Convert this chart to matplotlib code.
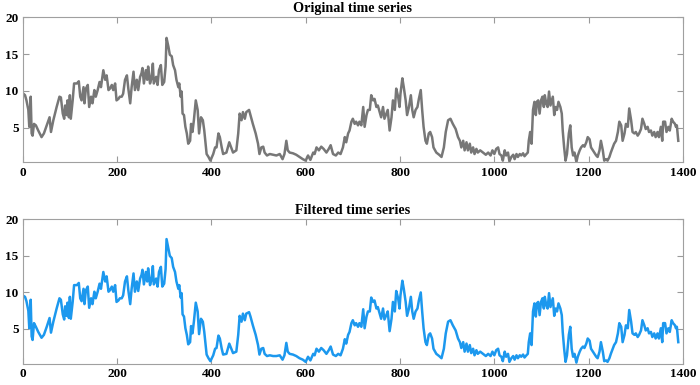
import matplotlib
matplotlib.use("Agg")
import matplotlib.pyplot as plt

plt.rcParams['font.family'] = ['Liberation Serif', 'DejaVu Serif']
plt.rcParams['font.weight'] = 'bold'

# time index of each value
t = [0, 5, 8, 12, 14, 17, 19, 21, 24, 28, 33, 40, 45, 51, 57, 60, 65, 72, 78, 81,
     85, 88, 90, 93, 95, 98, 100, 102, 106, 109, 115, 119, 122, 125, 129, 131, 134, 138, 141, 145,
     148, 152, 155, 159, 163, 166, 171, 175, 178, 182, 185, 189, 192, 196, 199, 203, 206, 210, 213, 217,
     221, 224, 228, 231, 235, 238, 242, 245, 249, 252, 254, 257, 261, 264, 266, 270, 273, 276, 278, 283,
     286, 289, 293, 296, 300, 303, 305, 309, 312, 316, 319, 323, 326, 330, 332, 335, 337, 339, 342, 345,
     348, 351, 355, 357, 360, 363, 367, 371, 374, 378, 382, 385, 390, 394, 398, 404, 408, 411, 415, 418,
     422, 425, 432, 438, 446, 453, 457, 460, 464, 467, 471, 474, 480, 483, 488, 494, 499, 502, 506, 510,
     513, 518, 524, 531, 538, 545, 551, 555, 559, 562, 566, 573, 580, 587, 594, 600, 605, 610, 616, 619,
     623, 628, 633, 638, 644, 649, 653, 658, 664, 669, 674, 679, 683, 686, 690, 693, 697, 700, 704, 707,
     711, 714, 718, 722, 725, 729, 732, 736, 739, 743, 746, 750, 753, 757, 760, 764, 767, 771, 774, 778,
     782, 785, 789, 792, 796, 799, 801, 805, 808, 812, 815, 819, 823, 826, 829, 833, 837, 840, 844, 847,
     850, 854, 857, 861, 864, 868, 871, 877, 883, 888, 893, 897, 902, 907, 912, 918, 923, 927, 930, 934,
     937, 941, 944, 948, 951, 955, 958, 962, 965, 970, 976, 982, 987, 992, 996, 1000, 1004, 1008, 1011, 1015,
     1018, 1022, 1025, 1029, 1032, 1036, 1040, 1043, 1047, 1050, 1054, 1057, 1061, 1064, 1068, 1071, 1073, 1076, 1079, 1082,
     1085, 1088, 1090, 1093, 1096, 1099, 1102, 1105, 1107, 1110, 1113, 1116, 1119, 1122, 1124, 1127, 1130, 1133, 1136, 1140,
     1143, 1145, 1148, 1151, 1154, 1158, 1161, 1164, 1167, 1170, 1174, 1177, 1181, 1184, 1188, 1191, 1195, 1198, 1202, 1205,
     1209, 1212, 1216, 1219, 1223, 1226, 1230, 1233, 1237, 1240, 1244, 1247, 1251, 1254, 1258, 1262, 1265, 1269, 1272, 1276,
     1279, 1283, 1286, 1290, 1293, 1297, 1300, 1304, 1307, 1311, 1314, 1318, 1321, 1325, 1328, 1332, 1335, 1339, 1342, 1346,
     1349, 1353, 1356, 1358, 1362, 1365, 1369, 1372, 1376, 1379, 1383, 1385, 1387, 1390]

original = [9.7, 9.4, 8.7, 7.4, 5.1, 9.2, 4.2, 3.9, 5.5, 5.3, 4.6, 3.7, 4.2, 5.3, 6.4, 4.4, 6.0, 7.8, 9.2, 9.1,
            6.9, 6.2, 8.0, 6.7, 8.7, 6.4, 9.4, 6.2, 8.7, 11.0, 11.0, 11.3, 9.2, 8.7, 10.5, 8.3, 10.3, 10.8, 7.8, 9.2,
            8.3, 10.1, 9.2, 10.1, 11.2, 10.5, 12.8, 11.5, 12.1, 10.1, 10.3, 10.8, 10.1, 11.0, 8.7, 8.9, 9.2, 9.2, 9.6, 11.5,
            12.1, 10.3, 8.3, 10.5, 12.6, 10.1, 11.5, 10.1, 11.9, 12.4, 13.1, 11.0, 12.8, 11.5, 13.3, 11.0, 11.7, 13.7, 11.0, 11.9,
            10.8, 12.8, 13.5, 10.8, 11.2, 13.3, 17.2, 16.0, 14.9, 14.7, 13.5, 12.8, 11.5, 10.5, 11.0, 9.2, 9.9, 6.9, 6.7, 5.1,
            4.2, 2.8, 3.2, 5.5, 4.4, 6.0, 8.7, 7.4, 4.2, 6.4, 6.0, 4.6, 1.4, 1.0, 0.5, 1.4, 2.3, 2.3, 4.2, 3.7,
            2.3, 1.4, 1.6, 3.0, 1.6, 1.9, 4.2, 6.9, 6.0, 7.1, 6.2, 7.1, 7.4, 6.7, 5.5, 4.2, 2.8, 1.4, 2.3, 2.4,
            1.6, 1.2, 1.4, 1.3, 1.2, 1.4, 0.7, 1.4, 3.2, 1.9, 1.6, 1.5, 1.3, 1.0, 0.7, 0.5, 1.2, 0.6, 1.6, 1.4,
            2.3, 1.9, 2.4, 2.1, 1.6, 2.1, 2.6, 1.4, 1.2, 1.6, 1.4, 2.3, 3.7, 3.0, 4.2, 4.6, 5.8, 6.2, 5.5, 5.8,
            5.3, 5.8, 5.3, 7.8, 5.1, 6.7, 7.4, 7.4, 9.4, 8.7, 8.9, 7.8, 8.0, 7.1, 6.4, 7.8, 6.2, 6.9, 7.4, 4.6,
            6.4, 8.7, 7.4, 10.3, 9.2, 7.8, 9.6, 11.7, 10.5, 8.7, 6.7, 7.8, 9.4, 7.4, 6.4, 7.4, 7.8, 8.9, 10.1, 7.4,
            5.1, 3.2, 2.8, 4.2, 4.4, 3.7, 2.3, 1.6, 1.3, 1.0, 2.3, 4.4, 6.0, 6.2, 5.5, 4.8, 3.7, 3.2, 2.3, 3.2,
            1.9, 3.0, 1.9, 2.8, 1.6, 2.3, 1.4, 2.1, 1.6, 1.9, 1.6, 1.3, 1.6, 1.2, 1.9, 1.4, 2.1, 2.3, 1.4, 1.2,
            0.5, 1.9, 1.2, 1.6, 0.4, 1.0, 1.3, 0.7, 1.4, 1.0, 1.4, 1.2, 1.5, 1.1, 1.4, 1.6, 3.2, 4.4, 2.8, 7.4,
            8.5, 6.7, 8.5, 8.7, 6.9, 8.7, 9.2, 7.8, 9.4, 8.3, 7.8, 9.9, 8.0, 8.7, 9.2, 6.7, 7.8, 7.4, 8.5, 7.8,
            6.9, 4.6, 2.3, 0.5, 1.4, 4.2, 5.3, 2.3, 1.2, 1.6, 0.3, 1.2, 1.9, 2.3, 2.6, 2.4, 3.0, 3.7, 3.4, 2.3,
            1.9, 1.6, 1.2, 1.0, 1.9, 3.2, 1.9, 0.5, 0.7, 0.5, 1.0, 1.6, 2.3, 2.8, 3.2, 4.4, 5.8, 5.3, 3.2, 4.2,
            5.5, 5.1, 7.6, 6.0, 4.4, 4.2, 4.4, 3.9, 4.2, 4.8, 6.2, 5.5, 4.8, 5.1, 4.4, 4.6, 3.9, 4.4, 3.7, 4.4,
            3.7, 5.1, 3.2, 5.8, 5.8, 4.4, 5.1, 4.6, 6.2, 5.8, 5.5, 5.1, 5.3, 3.2]

filtered = [9.6, 9.4, 8.8, 7.5, 5.1, 9.0, 4.0, 3.5, 5.8, 5.3, 4.6, 3.8, 4.2, 5.3, 6.5, 4.5, 6.0, 7.8, 9.2, 9.0,
            7.0, 6.3, 8.1, 6.8, 8.6, 6.5, 9.4, 6.4, 8.7, 11.0, 11.0, 11.3, 9.2, 8.8, 10.5, 8.4, 10.3, 10.8, 7.9, 9.2,
            8.4, 10.1, 9.2, 10.1, 11.2, 10.5, 12.8, 11.5, 12.2, 10.1, 10.3, 10.8, 10.1, 11.0, 8.7, 8.9, 9.2, 9.2, 9.6, 11.5,
            12.2, 10.3, 8.4, 10.5, 12.6, 10.1, 11.5, 10.2, 11.9, 12.4, 13.1, 11.1, 12.8, 11.5, 13.3, 11.0, 11.7, 13.6, 11.1, 11.9,
            10.8, 12.8, 13.5, 10.8, 11.2, 13.2, 17.3, 16.0, 15.0, 14.7, 13.5, 12.8, 11.5, 10.5, 11.0, 9.3, 9.9, 7.0, 6.7, 5.1,
            4.2, 2.9, 3.2, 5.4, 4.4, 6.0, 8.6, 7.4, 4.3, 6.4, 6.0, 4.6, 1.5, 1.0, 0.6, 1.4, 2.3, 2.4, 4.1, 3.7,
            2.3, 1.5, 1.6, 3.0, 1.7, 1.9, 4.2, 6.8, 6.0, 7.1, 6.2, 7.1, 7.3, 6.7, 5.5, 4.2, 2.8, 1.5, 2.3, 2.4,
            1.6, 1.3, 1.4, 1.3, 1.3, 1.4, 0.8, 1.4, 3.1, 1.9, 1.6, 1.5, 1.3, 1.0, 0.8, 0.5, 1.2, 0.7, 1.6, 1.4,
            2.3, 1.9, 2.4, 2.1, 1.6, 2.1, 2.6, 1.5, 1.3, 1.6, 1.4, 2.3, 3.6, 3.0, 4.2, 4.6, 5.8, 6.2, 5.5, 5.8,
            5.3, 5.8, 5.3, 7.7, 5.1, 6.7, 7.4, 7.4, 9.3, 8.7, 8.9, 7.8, 8.0, 7.1, 6.4, 7.8, 6.3, 6.9, 7.4, 4.7,
            6.4, 8.7, 7.4, 10.2, 9.2, 7.8, 9.6, 11.6, 10.5, 8.7, 6.8, 7.8, 9.4, 7.4, 6.4, 7.4, 7.8, 8.9, 10.0, 7.4,
            5.1, 3.2, 2.8, 4.2, 4.4, 3.7, 2.3, 1.6, 1.3, 1.0, 2.3, 4.4, 6.0, 6.2, 5.5, 4.8, 3.7, 3.2, 2.4, 3.2,
            1.9, 3.0, 1.9, 2.8, 1.7, 2.3, 1.4, 2.1, 1.6, 1.9, 1.6, 1.3, 1.6, 1.3, 1.9, 1.4, 2.1, 2.3, 1.4, 1.2,
            0.6, 1.9, 1.2, 1.6, 0.5, 1.0, 1.3, 0.8, 1.4, 1.0, 1.4, 1.2, 1.5, 1.1, 1.4, 1.6, 3.2, 4.4, 2.8, 7.4,
            8.5, 6.7, 8.5, 8.7, 6.9, 8.7, 9.2, 7.8, 9.4, 8.3, 7.8, 9.9, 8.0, 8.7, 9.2, 6.8, 7.8, 7.4, 8.5, 7.8,
            6.9, 4.6, 2.3, 0.5, 1.4, 4.2, 5.3, 2.3, 1.2, 1.6, 0.4, 1.2, 1.9, 2.3, 2.6, 2.4, 3.0, 3.7, 3.4, 2.3,
            1.9, 1.6, 1.2, 1.0, 1.9, 3.2, 1.9, 0.6, 0.7, 0.5, 1.0, 1.6, 2.3, 2.8, 3.2, 4.4, 5.8, 5.3, 3.2, 4.2,
            5.5, 5.1, 7.6, 6.0, 4.4, 4.2, 4.4, 3.9, 4.2, 4.8, 6.2, 5.5, 4.8, 5.1, 4.4, 4.6, 3.9, 4.4, 3.7, 4.4,
            3.7, 5.1, 3.2, 5.8, 5.8, 4.4, 5.1, 4.6, 6.2, 5.8, 5.5, 5.1, 5.3, 3.2]

xticks = [0, 200, 400, 600, 800, 1000, 1200, 1400]
yticks = [5, 10, 15, 20]

fig = plt.figure(figsize=(7, 3.85), dpi=100)
ax1 = fig.add_axes([0.0324, 0.578, 0.9433, 0.377])
ax2 = fig.add_axes([0.0324, 0.0553, 0.9433, 0.375])

panels = [(ax1, original, "#777777", "Original time series"),
          (ax2, filtered, "#1c98ee", "Filtered time series")]

for ax, y, col, title in panels:
    ax.plot(t, y, color=col, lw=1.8)
    ax.set_xlim(0, 1400)
    ax.set_ylim(0.25, 20)
    ax.set_xticks(xticks)
    ax.set_yticks(yticks)
    ax.tick_params(direction="in", length=4, width=0.8, color="#9a9a9a",
                   top=True, right=True, labelsize=9.5, pad=3)
    for lab in ax.get_xticklabels() + ax.get_yticklabels():
        lab.set_fontweight("bold")
    for s in ax.spines.values():
        s.set_color("#a0a0a0")
        s.set_linewidth(0.8)
    ax.set_title(title, fontsize=10.2, fontweight="bold", pad=4)

fig.savefig("out.png", dpi=100)
